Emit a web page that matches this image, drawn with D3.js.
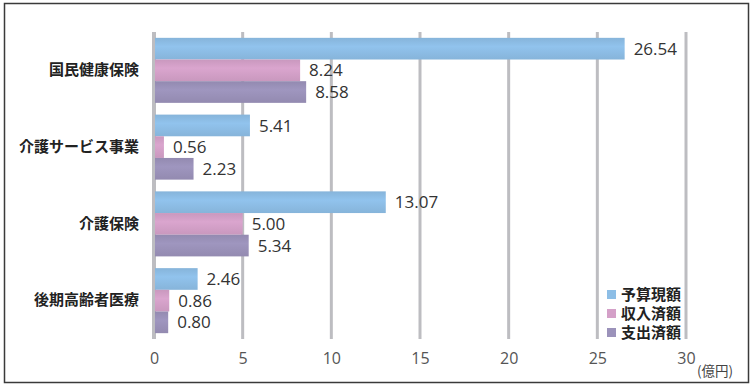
<!DOCTYPE html>
<html><head><meta charset="utf-8">
<script src="https://cdn.jsdelivr.net/npm/d3@7"></script>
<style>
body{margin:0;background:#fff;}
svg{display:block;}
</style></head>
<body>
<script>
const categories = ["国民健康保険","介護サービス事業","介護保険","後期高齢者医療"];
const seriesNames = ["予算現額","収入済額","支出済額"];
const budget = [26.54, 5.41, 13.07, 2.46];
const revenue = [8.24, 0.56, 5.00, 0.86];
const expense = [8.58, 2.23, 5.34, 0.80];
const tickValues = [0,5,10,15,20,25,30];
const unitLabel = "(億円)";

const colors = ["#8dbee6","#d4a0c8","#9b92ba"];
const W = 754, H = 388;
const svg = d3.select("body").append("svg").attr("width",W).attr("height",H);

svg.append("rect").attr("x",4.5).attr("y",3.5).attr("width",744).attr("height",379)
  .attr("fill","#fff").attr("stroke","#3a3a3a").attr("stroke-width",1.5);

const x = d3.scaleLinear().domain([0,30]).range([154,686]);
const y0 = d3.scaleBand().domain(categories).range([32,339]).paddingInner(0.153).paddingOuter(0.076);
const y1 = d3.scaleBand().domain(seriesNames).range([0,y0.bandwidth()]);

const defs = svg.append("defs");
colors.forEach((c,i)=>{
  const g = defs.append("linearGradient").attr("id","g"+i).attr("x1",0).attr("y1",0).attr("x2",0).attr("y2",1);
  const dk = d3.color(c).darker(0.15);
  const lt = d3.color(c).brighter(0.08);
  g.append("stop").attr("offset","0%").attr("stop-color",dk);
  g.append("stop").attr("offset","40%").attr("stop-color",lt);
  g.append("stop").attr("offset","100%").attr("stop-color",dk);
});

// gridlines
svg.append("g").selectAll("line").data(tickValues).join("line")
  .attr("x1",d=>x(d)).attr("x2",d=>x(d)).attr("y1",32).attr("y2",339)
  .attr("stroke","#bdbdc1").attr("stroke-width",d=>d===0?4:3);

// tick labels
const xAxis = d3.axisBottom(x).tickValues(tickValues).tickSize(0).tickPadding(0);
const ax = svg.append("g").attr("transform","translate(0,350)").call(xAxis);
ax.select(".domain").remove();
ax.selectAll("text").attr("font-family","'Open Sans',sans-serif").attr("font-size",16)
  .attr("fill","#555").attr("dy","0.85em");

svg.append("text").attr("x",697).attr("y",376).text(unitLabel)
  .attr("font-family","'Noto Sans CJK JP',sans-serif").attr("font-size",13.5).attr("fill","#444");

// category labels
const yAxis = d3.axisLeft(y0).tickSize(0).tickPadding(0);
const ay = svg.append("g").attr("transform","translate(139,0)").call(yAxis);
ay.select(".domain").remove();
ay.selectAll("text").attr("font-family","'Noto Sans CJK JP',sans-serif").attr("font-size",15)
  .attr("font-weight","bold").attr("fill","#222");

const series = [budget, revenue, expense];
const rows = [];
categories.forEach((c,ci)=>seriesNames.forEach((s,si)=>rows.push({c,s,si,v:series[si][ci]})));

const bars = svg.append("g");
bars.selectAll("rect").data(rows).join("rect")
  .attr("x",x(0)+1).attr("y",d=>y0(d.c)+y1(d.s))
  .attr("width",d=>x(d.v)-x(0)-1).attr("height",y1.bandwidth())
  .attr("fill",d=>`url(#g${d.si})`);

bars.selectAll("text").data(rows).join("text")
  .attr("x",d=>x(d.v)+9).attr("y",d=>y0(d.c)+y1(d.s)+y1.bandwidth()/2)
  .attr("dy","0.36em").text(d=>d.v.toFixed(2))
  .attr("font-family","'Open Sans',sans-serif").attr("font-size",17).attr("fill","#333");

// legend
const lg = svg.append("g").attr("transform","translate(607,290)");
seriesNames.forEach((s,i)=>{
  lg.append("rect").attr("x",0).attr("y",i*19).attr("width",9).attr("height",9).attr("fill",colors[i]);
  lg.append("text").attr("x",14).attr("y",i*19+4.5).attr("dy","0.38em").text(s)
    .attr("font-family","'Noto Sans CJK JP',sans-serif").attr("font-size",15).attr("font-weight","bold").attr("fill","#222");
});
</script>
</body></html>
